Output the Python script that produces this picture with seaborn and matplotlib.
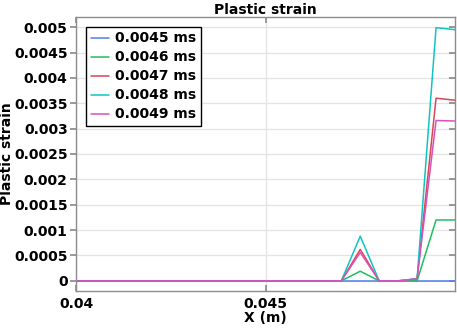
import numpy as np
import pandas as pd
import matplotlib
matplotlib.use("Agg")
import matplotlib.pyplot as plt
import seaborn as sns

x_vals = [0.040, 0.0405, 0.041, 0.0415, 0.042, 0.0425, 0.043, 0.0435, 0.044, 0.0445,
          0.045, 0.0455, 0.046, 0.0465, 0.047, 0.0475, 0.048, 0.0485, 0.049, 0.0495, 0.050]
s_45 = [0]*21
s_46 = [0]*15 + [0.00019, 0, 0, 0, 0.0012, 0.0012]
s_47 = [0]*15 + [0.00062, 0, 0, 0.00004, 0.0036, 0.00356]
s_48 = [0]*15 + [0.00088, 0, 0, 0.00004, 0.00499, 0.00495]
s_49 = [0]*15 + [0.00056, 0, 0, 0.00004, 0.00316, 0.00315]
series_names = ["0.0045 ms", "0.0046 ms", "0.0047 ms", "0.0048 ms", "0.0049 ms"]
y_ticks = [0, 0.0005, 0.001, 0.0015, 0.002, 0.0025, 0.003, 0.0035, 0.004, 0.0045, 0.005]
y_tick_labels = ["0", "0.0005", "0.001", "0.0015", "0.002", "0.0025", "0.003", "0.0035", "0.004", "0.0045", "0.005"]
x_ticks = [0.04, 0.045]
x_tick_labels = ["0.04", "0.045"]

colors = ["#4f7fef", "#1fbf5f", "#d9474f", "#10c4c4", "#d94fbf"]

frames = []
for name, vals in zip(series_names, [s_45, s_46, s_47, s_48, s_49]):
    frames.append(pd.DataFrame({"x": x_vals, "y": vals, "series": name}))
df = pd.concat(frames, ignore_index=True)

sns.set_theme(style="white")
plt.rcParams["font.family"] = ["DejaVu Sans"]
plt.rcParams["text.color"] = "black"
plt.rcParams["axes.labelcolor"] = "black"
plt.rcParams["xtick.color"] = "black"
plt.rcParams["ytick.color"] = "black"

FS = 10

fig = plt.figure(figsize=(4.57, 3.28), dpi=100)
ax = fig.add_axes([76/457, 1-291/328, (455-76)/457, (291-17)/328])

sns.lineplot(data=df, x="x", y="y", hue="series", palette=colors, ax=ax,
             linewidth=1.1, legend=True)

ax.set_xlim(0.04, 0.05)
ax.set_ylim(-0.0002, 0.0052)
ax.set_xticks(x_ticks)
ax.set_xticklabels(x_tick_labels, fontsize=FS, fontweight="bold", color="black")
ax.set_yticks(y_ticks)
ax.set_yticklabels(y_tick_labels, fontsize=FS, fontweight="bold", color="black")
ax.grid(True, color="#e3e3e3", linewidth=0.9)
ax.set_axisbelow(True)
for s in ax.spines.values():
    s.set_color("#8c8c8c")
    s.set_linewidth(1.0)
ax.tick_params(axis="y", which="both", left=True, right=True, direction="out",
               length=4, color="#8c8c8c", pad=2)
ax.tick_params(axis="x", which="both", bottom=True, top=True, direction="in",
               length=4, color="#8c8c8c", pad=4)
ax.tick_params(axis="y", right=True, labelright=False)
for t in ax.yaxis.get_major_ticks():
    t.tick2line.set_marker(matplotlib.lines.TICKLEFT)

ax.set_xlabel("X (m)", fontsize=FS, fontweight="bold", labelpad=0, color="black")
ax.set_ylabel("Plastic strain", fontsize=FS, fontweight="bold", color="black")
ax.yaxis.set_label_coords(-0.163, 0.5)
ax.set_title("Plastic strain", fontsize=FS, fontweight="bold", pad=2, color="black")

leg = ax.legend(loc="upper left", bbox_to_anchor=(0.026, 0.965), frameon=True,
                fancybox=False, edgecolor="black", framealpha=1,
                prop={"weight": "bold", "size": FS}, handlelength=1.3,
                handletextpad=0.45, labelspacing=0.36, borderpad=0.35,
                borderaxespad=0)
leg.get_frame().set_linewidth(1.0)

fig.savefig("out.png", dpi=100)
